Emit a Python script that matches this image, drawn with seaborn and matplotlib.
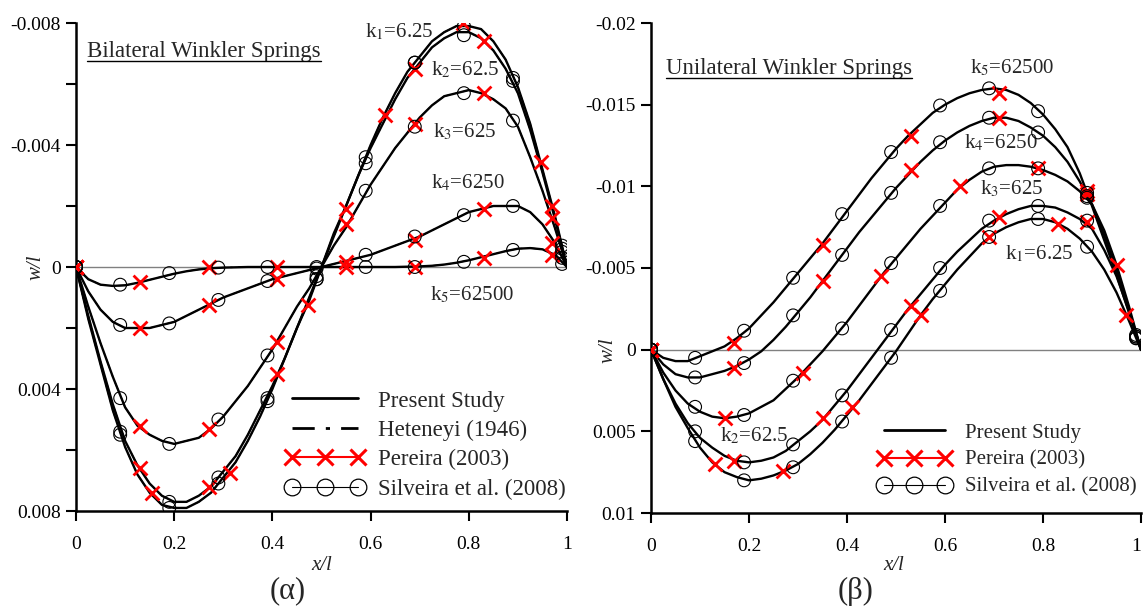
import matplotlib
matplotlib.use("Agg")
import matplotlib.pyplot as plt
import seaborn as sns
import pandas as pd
from matplotlib.lines import Line2D
from matplotlib.ticker import FixedLocator

# ---------------- data ----------------
x_curve = [0.000, 0.025, 0.050, 0.075, 0.100, 0.125, 0.150, 0.175, 0.200, 0.225, 0.250,
           0.275, 0.300, 0.325, 0.350, 0.375, 0.400, 0.425, 0.450, 0.475, 0.500,
           0.525, 0.550, 0.575, 0.600, 0.625, 0.650, 0.675, 0.700, 0.725, 0.750,
           0.775, 0.800, 0.825, 0.850, 0.875, 0.900, 0.925, 0.950, 0.975, 1.000]

# (a) Bilateral Winkler springs, w/l  (curves are antisymmetric about x/l = 0.5)
bil_k1 = [0, 0.0017, 0.0032, 0.0047, 0.0059, 0.0068, 0.0074, 0.0078, 0.0079, 0.0079, 0.0077,
          0.0074, 0.0069, 0.0064, 0.0057, 0.0049, 0.0040, 0.0030, 0.0020, 0.0011, 0,
          -0.0011, -0.0020, -0.0030, -0.0040, -0.0049, -0.0057, -0.0064, -0.0069, -0.0074, -0.0077,
          -0.0079, -0.0079, -0.0078, -0.0074, -0.0068, -0.0059, -0.0047, -0.0032, -0.0017, 0]
bil_k2 = [0, 0.0016, 0.0031, 0.0045, 0.0057, 0.0065, 0.0071, 0.0075, 0.0077, 0.0077, 0.0075,
          0.0072, 0.0067, 0.0062, 0.0055, 0.0047, 0.0039, 0.0030, 0.0020, 0.0010, 0,
          -0.0010, -0.0020, -0.0030, -0.0039, -0.0047, -0.0055, -0.0062, -0.0067, -0.0072, -0.0075,
          -0.0077, -0.0077, -0.0075, -0.0071, -0.0065, -0.0057, -0.0045, -0.0031, -0.0016, 0]
bil_k3 = [0, 0.0013, 0.0025, 0.0036, 0.0046, 0.0052, 0.0055, 0.0057, 0.0058, 0.0057, 0.0056,
          0.0053, 0.0049, 0.0044, 0.0039, 0.0033, 0.0027, 0.0020, 0.0013, 0.0007, 0,
          -0.0007, -0.0013, -0.0020, -0.0027, -0.0033, -0.0039, -0.0044, -0.0049, -0.0053, -0.0056,
          -0.0057, -0.0058, -0.0057, -0.0055, -0.0052, -0.0046, -0.0036, -0.0025, -0.0013, 0]
bil_k4 = [0, 0.0008, 0.0014, 0.0018, 0.0020, 0.0020, 0.0020, 0.0019, 0.0018, 0.0016, 0.0014,
          0.0012, 0.0010, 0.00085, 0.0007, 0.00055, 0.0004, 0.0003, 0.0002, 0.0001, 0,
          -0.0001, -0.0002, -0.0003, -0.0004, -0.00055, -0.0007, -0.00085, -0.0010, -0.0012, -0.0014,
          -0.0016, -0.0018, -0.0019, -0.0020, -0.0020, -0.0020, -0.0018, -0.0014, -0.0008, 0]
bil_k5 = [0, 0.0004, 0.00058, 0.00062, 0.0006, 0.00052, 0.00042, 0.00032, 0.00022, 0.00014, 0.00008,
          0.00004, 0.00002, 0.00001, 0, 0, 0, 0, 0, 0, 0,
          0, 0, 0, 0, 0, 0, -0.00001, -0.00002, -0.00004, -0.00008,
          -0.00014, -0.00022, -0.00032, -0.00042, -0.00052, -0.0006, -0.00062, -0.00058, -0.0004, 0]

bil_sil_x = [0, 0.09, 0.19, 0.29, 0.39, 0.49, 0.59, 0.69, 0.79, 0.89, 0.99]
bil_sil_k1 = [0, 0.0055, 0.0079, 0.0071, 0.0044, 0.0004, -0.0036, -0.0067, -0.0079, -0.0062, -0.0007]
bil_sil_k2 = [0, 0.0054, 0.0077, 0.0069, 0.0043, 0.0004, -0.0034, -0.0067, -0.0076, -0.0061, -0.0006]
bil_sil_k3 = [0, 0.0043, 0.0058, 0.0050, 0.0029, 0.0003, -0.0025, -0.0046, -0.0057, -0.0048, -0.0005]
bil_sil_k4 = [0, 0.0019, 0.00185, 0.00108, 0.00046, 0.00005, -0.0004, -0.0010, -0.0017, -0.0020, -0.0003]
bil_sil_k5 = [0, 0.00058, 0.0002, 0.00002, 0, 0, 0, 0, -0.00017, -0.00056, -0.0001]

bil_per_x_k1 = [0, 0.155, 0.314, 0.473, 0.629, 0.789, 0.948]
bil_per_k1 = [0, 0.0074, 0.00675, 0.00125, -0.0050, -0.0080, -0.00345]
bil_per_x = [0, 0.13, 0.27, 0.41, 0.55, 0.69, 0.83, 0.97]
bil_per_k2 = [0, 0.0066, 0.0072, 0.0035, -0.0019, -0.0065, -0.0074, -0.0020]
bil_per_k3 = [0, 0.0052, 0.0053, 0.00245, -0.0014, -0.0047, -0.0057, -0.0016]
bil_per_k4 = [0, 0.0020, 0.00125, 0.0004, -0.00017, -0.0009, -0.0019, -0.0008]
bil_per_k5 = [0, 0.00048, 0.0, 0.0, 0.0, 0.0, -0.0003, -0.0004]

# (b) Unilateral Winkler springs, w/l
uni_k5 = [0, 0.0005, 0.0007, 0.0007, 0.0004, 0.0001, -0.0002, -0.0007, -0.0013, -0.0021, -0.0029,
          -0.0038, -0.0047, -0.0056, -0.0065, -0.0075, -0.0085, -0.0095, -0.0105, -0.0114, -0.0123,
          -0.0131, -0.0138, -0.0145, -0.0150, -0.0154, -0.0157, -0.0159, -0.0160, -0.0159, -0.0156,
          -0.0151, -0.0144, -0.0135, -0.0124, -0.0108, -0.0088, -0.0067, -0.0046, -0.0023, 0]
uni_k4 = [0, 0.0009, 0.0015, 0.0017, 0.0017, 0.0015, 0.0013, 0.0010, 0.0006, 0.0001, -0.0006,
          -0.0014, -0.0023, -0.0032, -0.0042, -0.0052, -0.0062, -0.0072, -0.0081, -0.0090, -0.0099,
          -0.0107, -0.0115, -0.0122, -0.0128, -0.0133, -0.0137, -0.0140, -0.0142, -0.0142, -0.0140,
          -0.0136, -0.0131, -0.0124, -0.0115, -0.0103, -0.0089, -0.0070, -0.0049, -0.0025, 0]
uni_k3 = [0, 0.0014, 0.0025, 0.0033, 0.0038, 0.0041, 0.0042, 0.0041, 0.0039, 0.0035, 0.0031,
          0.0024, 0.0017, 0.0009, 0.0001, -0.0008, -0.0017, -0.0027, -0.0037, -0.0047, -0.0056,
          -0.0065, -0.0074, -0.0082, -0.0090, -0.0098, -0.0104, -0.0109, -0.0112, -0.0113, -0.0113,
          -0.0112, -0.0110, -0.0107, -0.0103, -0.0097, -0.0089, -0.0073, -0.0052, -0.0027, 0]
uni_k2 = [0, 0.0018, 0.0033, 0.0045, 0.0054, 0.0060, 0.0065, 0.0068, 0.0069, 0.0068, 0.0066,
          0.0062, 0.0056, 0.0050, 0.0043, 0.0034, 0.0025, 0.0015, 0.0005, -0.0005, -0.0015,
          -0.0025, -0.0034, -0.0043, -0.0052, -0.0060, -0.0067, -0.0074, -0.0079, -0.0083, -0.0086,
          -0.0088, -0.0088, -0.0087, -0.0084, -0.0080, -0.0074, -0.0061, -0.0045, -0.0024, 0]
uni_k1 = [0, 0.0018, 0.0035, 0.0048, 0.0060, 0.0069, 0.0075, 0.0078, 0.0080, 0.0079, 0.0077,
          0.0074, 0.0070, 0.0064, 0.0057, 0.0049, 0.0040, 0.0031, 0.0021, 0.0011, 0.0001,
          -0.0010, -0.0021, -0.0031, -0.0040, -0.0049, -0.0057, -0.0065, -0.0071, -0.0075, -0.0078,
          -0.0080, -0.0080, -0.0078, -0.0074, -0.0068, -0.0060, -0.0049, -0.0035, -0.0018, 0]

uni_sil_x = [0, 0.09, 0.19, 0.29, 0.39, 0.49, 0.59, 0.69, 0.79, 0.89, 0.99]
uni_sil_k5 = [0, 0.0005, -0.00116, -0.0044, -0.0083, -0.0121, -0.01495, -0.0160, -0.0146, -0.0094, -0.0009]
uni_sil_k4 = [0, 0.0017, 0.00082, -0.0021, -0.0058, -0.0096, -0.0127, -0.0142, -0.0133, -0.0093, -0.0008]
uni_sil_k3 = [0, 0.0035, 0.0040, 0.0019, -0.0013, -0.0053, -0.0088, -0.0111, -0.0111, -0.0096, -0.0008]
uni_sil_k2 = [0, 0.0050, 0.0069, 0.0058, 0.0028, -0.0012, -0.0050, -0.0079, -0.0088, -0.0079, -0.0007]
uni_sil_k1 = [0, 0.0056, 0.0080, 0.0072, 0.0044, 0.0005, -0.0036, -0.0069, -0.0080, -0.0063, -0.0007]

uni_per_x_18 = [0, 0.17, 0.35, 0.53, 0.71, 0.89]
uni_per_k5 = [0, -0.0004, -0.0064, -0.0131, -0.0157, -0.0097]
uni_per_k4 = [0, 0.0011, -0.0042, -0.0110, -0.0142, -0.0095]
uni_per_k2 = [0, 0.0068, 0.0042, -0.0027, -0.0081, -0.0078]
uni_per_x_k3 = [0, 0.15, 0.31, 0.47, 0.63, 0.79, 0.95]
uni_per_k3 = [0, 0.0042, 0.0014, -0.0045, -0.0100, -0.0111, -0.0052]
uni_per_x_k1 = [0, 0.13, 0.27, 0.41, 0.55, 0.69, 0.83, 0.97]
uni_per_k1 = [0, 0.0070, 0.0074, 0.0035, -0.0021, -0.0069, -0.0077, -0.0021]

x_ticks = [0, 0.2, 0.4, 0.6, 0.8, 1.0]
x_tick_labels = ["0", "0.2", "0.4", "0.6", "0.8", "1"]
bil_y_ticks = [-0.008, -0.004, 0, 0.004, 0.008]
bil_y_tick_labels = ["-0.008", "-0.004", "0", "0.004", "0.008"]
bil_y_minor = [-0.006, -0.002, 0.002, 0.006]
uni_y_ticks = [-0.02, -0.015, -0.01, -0.005, 0, 0.005, 0.01]
uni_y_tick_labels = ["-0.02", "-0.015", "-0.01", "-0.005", "0", "0.005", "0.01"]

legend_labels_bil = ["Present Study", "Heteneyi (1946)", "Pereira (2003)", "Silveira et al. (2008)"]
legend_labels_uni = ["Present Study", "Pereira (2003)", "Silveira et al. (2008)"]


def long_df(pairs):
    rows = []
    for name, xs, ys in pairs:
        for xv, yv in zip(xs, ys):
            rows.append({"curve": name, "x": xv, "w": yv})
    return pd.DataFrame(rows)


bil_lines = long_df([("k1", x_curve, bil_k1), ("k2", x_curve, bil_k2), ("k3", x_curve, bil_k3),
                     ("k4", x_curve, bil_k4), ("k5", x_curve, bil_k5)])
bil_sil = long_df([(k, bil_sil_x, v) for k, v in
                   [("k1", bil_sil_k1), ("k2", bil_sil_k2), ("k3", bil_sil_k3),
                    ("k4", bil_sil_k4), ("k5", bil_sil_k5)]])
bil_per = long_df([("k1", bil_per_x_k1, bil_per_k1), ("k2", bil_per_x, bil_per_k2),
                   ("k3", bil_per_x, bil_per_k3), ("k4", bil_per_x, bil_per_k4),
                   ("k5", bil_per_x, bil_per_k5)])

uni_lines = long_df([("k1", x_curve, uni_k1), ("k2", x_curve, uni_k2), ("k3", x_curve, uni_k3),
                     ("k4", x_curve, uni_k4), ("k5", x_curve, uni_k5)])
uni_sil = long_df([(k, uni_sil_x, v) for k, v in
                   [("k1", uni_sil_k1), ("k2", uni_sil_k2), ("k3", uni_sil_k3),
                    ("k4", uni_sil_k4), ("k5", uni_sil_k5)]])
uni_per = long_df([("k1", uni_per_x_k1, uni_per_k1), ("k2", uni_per_x_18, uni_per_k2),
                   ("k3", uni_per_x_k3, uni_per_k3), ("k4", uni_per_x_18, uni_per_k4),
                   ("k5", uni_per_x_18, uni_per_k5)])

# ---------------- style ----------------
sns.set_style("ticks")
plt.rcParams["font.family"] = ["Liberation Serif", "DejaVu Serif"]
plt.rcParams["mathtext.fontset"] = "stix"
plt.rcParams["axes.unicode_minus"] = False

W, H = 1143, 607
fig = plt.figure(figsize=(W / 100, H / 100), dpi=100)
axL = fig.add_axes([76 / W, 1 - 511 / H, 491 / W, 488 / H])
axR = fig.add_axes([651 / W, 1 - 513 / H, 490 / W, 490 / H])


def draw(ax, lines, per, sil, heteneyi=False):
    ax.axhline(0, color="#808080", lw=1.0, zorder=1)
    sns.lineplot(data=lines, x="x", y="w", units="curve", estimator=None, sort=False,
                 color="black", lw=1.7, ax=ax, legend=False, zorder=3)
    if heteneyi:
        sns.lineplot(data=lines, x="x", y="w", units="curve", estimator=None, sort=False,
                     color="black", lw=1.0, linestyle=(0, (8, 4, 1.5, 4)), ax=ax,
                     legend=False, zorder=3)
    sns.scatterplot(data=per, x="x", y="w", marker="x", color="red", s=100, linewidth=2.0,
                    ax=ax, legend=False, zorder=4)
    sns.scatterplot(data=sil, x="x", y="w", marker="o", s=85, ax=ax, legend=False, zorder=5)
    coll = ax.collections[-1]
    coll.set_facecolor("none")
    coll.set_edgecolor("black")
    coll.set_linewidth(0.8)
    ax.set_xlim(0, 1)
    ax.set_xlabel("")
    ax.set_ylabel("")
    ax.xaxis.set_major_locator(FixedLocator(x_ticks))
    ax.set_xticklabels(x_tick_labels)
    for s in ["top", "right"]:
        ax.spines[s].set_visible(False)
    for s in ["left", "bottom"]:
        ax.spines[s].set_linewidth(1.8)
        ax.spines[s].set_color("black")
    ax.tick_params(axis="both", which="both", direction="out", length=7, width=1.5,
                   labelsize=14, colors="black", pad=4)
    ax.tick_params(axis="x", pad=11)


draw(axL, bil_lines, bil_per, bil_sil, heteneyi=True)
axL.set_ylim(0.008, -0.008)
axL.yaxis.set_major_locator(FixedLocator(bil_y_ticks))
axL.set_yticklabels(bil_y_tick_labels)
axL.yaxis.set_minor_locator(FixedLocator(bil_y_minor))

draw(axR, uni_lines, uni_per, uni_sil)
axR.set_ylim(0.01, -0.02)
axR.yaxis.set_major_locator(FixedLocator(uni_y_ticks))
axR.set_yticklabels(uni_y_tick_labels)
# keep the last x label inside the figure edge
axR.get_xticklabels()[-1].set_horizontalalignment("right")

# annotations
lab_fs = 15
tL = axL.text(0.0224, -0.00705, "Bilateral Winkler Springs",
              fontsize=16.5, ha="left", va="center")
axL.text(0.589, -0.0077, r"k$_1$=6.25", fontsize=lab_fs, ha="left", va="center")
axL.text(0.723, -0.00646, r"k$_2$=62.5", fontsize=lab_fs, ha="left", va="center")
axL.text(0.727, -0.00443, r"k$_3$=625", fontsize=lab_fs, ha="left", va="center")
axL.text(0.723, -0.00275, r"k$_4$=6250", fontsize=lab_fs, ha="left", va="center")
axL.text(0.721, 0.00092, r"k$_5$=62500", fontsize=lab_fs, ha="left", va="center")

tR = axR.text(0.031, -0.01722, "Unilateral Winkler Springs",
              fontsize=16.5, ha="left", va="center")
axR.text(0.651, -0.01722, r"k$_5$=62500", fontsize=lab_fs, ha="left", va="center")
axR.text(0.639, -0.01268, r"k$_4$=6250", fontsize=lab_fs, ha="left", va="center")
axR.text(0.671, -0.00987, r"k$_3$=625", fontsize=lab_fs, ha="left", va="center")
axR.text(0.722, -0.00588, r"k$_1$=6.25", fontsize=lab_fs, ha="left", va="center")
axR.text(0.141, 0.00527, r"k$_2$=62.5", fontsize=lab_fs, ha="left", va="center")

# axis titles / panel letters
fig.text(322 / W, 1 - 566 / H, "x/l", style="italic", fontsize=15, ha="center", va="center")
fig.text(894 / W, 1 - 566 / H, "x/l", style="italic", fontsize=15, ha="center", va="center")
fig.text(36 / W, 1 - 267 / H, "w/l", style="italic", fontsize=15, ha="center", va="center",
         rotation=90)
fig.text(608 / W, 1 - 350 / H, "w/l", style="italic", fontsize=15, ha="center", va="center",
         rotation=90)
fig.text(288 / W, 1 - 591 / H, "(α)", fontsize=22, ha="center", va="center")
fig.text(856 / W, 1 - 591 / H, "(β)", fontsize=22, ha="center", va="center")

# legends
h_present = Line2D([], [], color="black", lw=2)
h_het = Line2D([], [], color="black", lw=2, linestyle=(0, (8, 4, 1.5, 4)))
h_per = Line2D([], [], color="red", lw=1.5, marker="x", ms=12, mew=2.2)
h_sil = Line2D([], [], color="black", lw=0.8, marker="o", ms=12, mfc="none", mew=0.9)

legL = axL.legend([h_present, h_het, h_per, h_sil], legend_labels_bil,
                  loc="center left", bbox_to_anchor=(0.4257, 0.135), frameon=False,
                  fontsize=16.5, numpoints=3, handlelength=3.5, handletextpad=0.55,
                  labelspacing=0.36, borderpad=0, borderaxespad=0)
legR = axR.legend([h_present, h_per, h_sil], legend_labels_uni,
                  loc="center left", bbox_to_anchor=(0.463, 0.108), frameon=False,
                  fontsize=15, numpoints=3, handlelength=3.5, handletextpad=0.7,
                  labelspacing=0.36, borderpad=0, borderaxespad=0)

# underline the panel titles
fig.canvas.draw()
renderer = fig.canvas.get_renderer()
for t in (tL, tR):
    bb = t.get_window_extent(renderer)
    yline = bb.y0 + 1
    fig.add_artist(Line2D([bb.x0 / W, bb.x1 / W], [yline / H, yline / H],
                          transform=fig.transFigure, color="black", lw=1.0))

fig.savefig("out.png", dpi=100)
